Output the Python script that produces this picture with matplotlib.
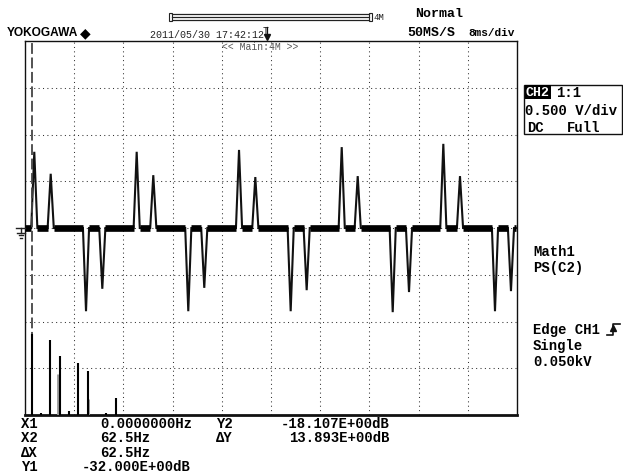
import matplotlib
matplotlib.use('Agg')
import matplotlib.pyplot as plt
from matplotlib.patches import Rectangle
from matplotlib.lines import Line2D

W, H = 623, 477

# ---------------- data ----------------
# CH2 time-domain trace: 8 ms/div, levels in divisions (0.500 V/div)
pulse_times_ms = [1.51, 4.18, 9.92, 12.57,
                  18.16, 20.86, 26.55, 29.15,
                  34.80, 37.45, 43.20, 45.80,
                  51.50, 54.10, 59.79, 62.44,
                  68.02, 70.73, 76.42, 79.02]
pulse_levels_div = [1.63, 1.16, -1.78, -1.30,
                    1.63, 1.13, -1.78, -1.28,
                    1.67, 1.09, -1.78, -1.33,
                    1.73, 1.11, -1.80, -1.37,
                    1.80, 1.11, -1.78, -1.35]
trace_end_ms = 79.8

# Math1 = PS(C2) power spectrum, bar heights in divisions above screen bottom
spec_freq_hz = [0, 62.5, 125, 187.5, 250, 312.5, 375, 500, 562.5]
spec_level_div = [1.73, 0.04, 1.60, 1.26, 0.09, 1.11, 0.94, 0.04, 0.36]
spec_ghost_freq_hz = [178, 378]
spec_ghost_level_div = [0.88, 0.34]

# cursor readout
cursor_labels = ["X1", "X2", "\u0394X", "Y1"]
cursor_values = ["0.0000000Hz", "62.5Hz", "62.5Hz", "-32.000E+00dB"]
cursor_labels2 = ["Y2", "\u0394Y"]
cursor_values2 = ["-18.107E+00dB", "13.893E+00dB"]

# ---------------- figure ----------------
fig = plt.figure(figsize=(W / 100, H / 100), dpi=100)
fig.patch.set_facecolor('white')

L, R, T, B = 25, 517, 42, 416
pos = [L / W, 1 - B / H, (R - L) / W, (B - T) / H]
ax = fig.add_axes(pos)
ax.set_xlim(0, 80)
ax.set_ylim(-4, 4)
ax.set_xticks([])
ax.set_yticks([])
for s in ax.spines.values():
    s.set_color('#111')
    s.set_linewidth(1.0)
ax.spines['bottom'].set_linewidth(2.0)

# dotted graticule
for i in range(1, 10):
    ax.axvline(i * 8, color='#333', lw=0.75, ls=(0, (1, 3.2)), zorder=1)
for j in range(-3, 4):
    ax.axhline(j, color='#333', lw=0.75, ls=(0, (1, 3.2)), zorder=1)

# time-domain trace
hw = 0.5
xs, ys = [0.0], [0.0]
for t, v in zip(pulse_times_ms, pulse_levels_div):
    xs += [t - hw, t, t + hw]
    ys += [0.0, v, 0.0]
xs.append(trace_end_ms)
ys.append(0.0)
ax.plot(xs, ys, color='#111', lw=1.5, zorder=3, solid_joinstyle='miter')

# thick noisy baseline band between pulses
starts = [0.0] + [t + hw for t in pulse_times_ms]
ends = [t - hw for t in pulse_times_ms] + [trace_end_ms]
for a, b in zip(starts, ends):
    ax.plot([a, b], [0, 0], color='black', lw=4.8, solid_capstyle='butt', zorder=3)

# spectrum overlay
axs = fig.add_axes(pos, frameon=False)
px_per_harm = 9.33
hz_per_px = 62.5 / px_per_harm
axs.set_xlim((L - 31.7) * hz_per_px, (R - 31.7) * hz_per_px)
axs.set_ylim(0, 8)
axs.set_xticks([])
axs.set_yticks([])
axs.axvline(0, color='#444', lw=1.3, ls=(0, (6, 2)), zorder=2)
axs.vlines(spec_ghost_freq_hz, 0, spec_ghost_level_div, color='#999', lw=2.0, zorder=3)
axs.vlines(spec_freq_hz, 0, spec_level_div, color='black', lw=1.5, zorder=4)

# ---------------- texts & decorations ----------------
def fx(x):
    return x / W

def fy(y):
    return 1 - y / H

mono = 'Liberation Mono'

fig.text(fx(7), fy(33), "YOKOGAWA", family='Liberation Sans', weight='bold',
         fontsize=8.6, va='center', ha='left')
fig.text(fx(80), fy(33), "\u25C6", family='DejaVu Sans', fontsize=10, va='center', ha='left')
fig.text(fx(150), fy(35), "2011/05/30 17:42:12", family=mono, fontsize=7.2,
         color='#222', va='center', ha='left')

# record-length bar
fig.add_artist(Rectangle((fx(169), fy(22)), fx(3), 8 / H, fill=False, lw=0.8,
                         ec='#222', transform=fig.transFigure))
fig.add_artist(Rectangle((fx(369), fy(22)), fx(3), 8 / H, fill=False, lw=0.8,
                         ec='#222', transform=fig.transFigure))
for yy in (15, 18, 21):
    fig.add_artist(Line2D([fx(172), fx(369)], [fy(yy), fy(yy)], lw=0.9,
                          color='#222', transform=fig.transFigure))
fig.text(fx(373), fy(18), "4M", family=mono, fontsize=6.5, va='center', ha='left', color='#222')

# trigger position marker
fig.text(fx(263), fy(31), "T", family=mono, fontsize=7, va='center', ha='left', color='#111')
fig.add_artist(Line2D([fx(267), fx(267)], [fy(28), fy(38)], lw=0.9, color='#111',
                      transform=fig.transFigure))
fig.add_artist(Line2D([fx(267)], [fy(38)], marker='v', ms=4, color='#111',
                      transform=fig.transFigure))

fig.text(fx(222), fy(47), "<< Main:4M >>", family=mono, fontsize=7, color='#555',
         va='center', ha='left')

fig.text(fx(415), fy(14), "Normal", family=mono, weight='bold', fontsize=9.5,
         va='center', ha='left')
fig.text(fx(407), fy(33), "50MS/S", family=mono, weight='bold', fontsize=9.5,
         va='center', ha='left')
fig.text(fx(468), fy(33), "8ms/div", family=mono, weight='bold', fontsize=8,
         va='center', ha='left')

# CH2 info box
fig.add_artist(Rectangle((fx(524), fy(135)), fx(98), 49 / H, fill=False, lw=1.0,
                         ec='#111', transform=fig.transFigure))
fig.text(fx(526), fy(93), "CH2", family=mono, weight='bold', fontsize=9.5, color='white',
         va='center', ha='left',
         bbox=dict(boxstyle='square,pad=0.05', fc='black', ec='none'))
fig.text(fx(556), fy(93), "1:1", family=mono, weight='bold', fontsize=10, va='center', ha='left')
fig.text(fx(525), fy(111), "0.500 V/div", family=mono, weight='bold', fontsize=10,
         va='center', ha='left')
fig.text(fx(527), fy(128), "DC", family=mono, weight='bold', fontsize=10, va='center', ha='left')
fig.text(fx(567), fy(128), "Full", family=mono, weight='bold', fontsize=10, va='center', ha='left')

fig.text(fx(533), fy(252), "Math1", family=mono, weight='bold', fontsize=10, va='center', ha='left')
fig.text(fx(533), fy(268), "PS(C2)", family=mono, weight='bold', fontsize=10, va='center', ha='left')

fig.text(fx(533), fy(330), "Edge CH1", family=mono, weight='bold', fontsize=10, va='center', ha='left')
fig.add_artist(Line2D([fx(607), fx(613), fx(613), fx(620)],
                      [fy(336), fy(336), fy(325), fy(325)], lw=1.2, color='#111',
                      transform=fig.transFigure))
fig.add_artist(Line2D([fx(613)], [fy(329)], marker='^', ms=4, color='#111',
                      transform=fig.transFigure))
fig.text(fx(533), fy(346), "Single", family=mono, weight='bold', fontsize=10, va='center', ha='left')
fig.text(fx(533), fy(362), "0.050kV", family=mono, weight='bold', fontsize=10, va='center', ha='left')

# ground marker for CH2
for (x0, x1, yy) in [(16, 25, 229), (17, 25, 233.5), (18.5, 23.5, 236), (20, 22, 238.5)]:
    fig.add_artist(Line2D([fx(x0), fx(x1)], [fy(yy), fy(yy)], lw=1.0, color='#222',
                          transform=fig.transFigure))
fig.add_artist(Line2D([fx(21), fx(21)], [fy(229), fy(233.5)], lw=1.0, color='#222',
                      transform=fig.transFigure))

# cursor readout
rows_y = [424, 438.5, 453, 467]
for lab, val, yy in zip(cursor_labels, cursor_values, rows_y):
    fig.text(fx(21), fy(yy), lab, family=mono, weight='bold', fontsize=10, va='center', ha='left')
    fig.text(fx(82 if val.startswith('-') else 100), fy(yy), val, family=mono, weight='bold',
             fontsize=10, va='center', ha='left')
for lab, val, yy in zip(cursor_labels2, cursor_values2, rows_y[:2]):
    fig.text(fx(216), fy(yy), lab, family=mono, weight='bold', fontsize=10, va='center', ha='left')
    fig.text(fx(390), fy(yy), val, family=mono, weight='bold', fontsize=10, va='center', ha='right')

fig.savefig('out.png', dpi=100, facecolor='white')
